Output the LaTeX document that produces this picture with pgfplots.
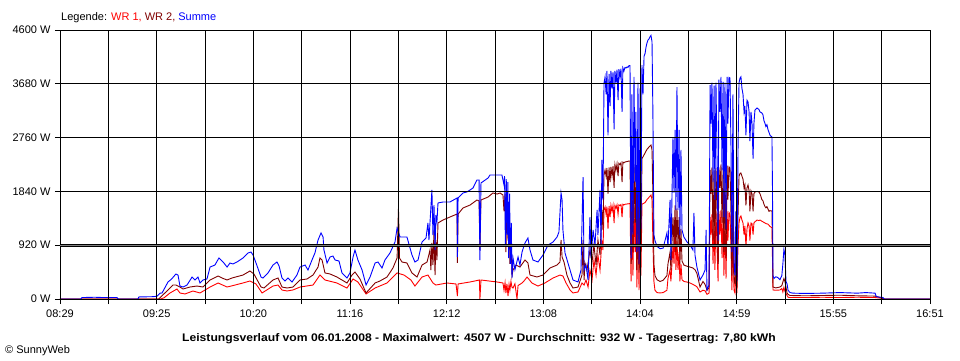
\documentclass[border=0pt]{standalone}
\usepackage{pgfplots}
\pgfplotsset{compat=1.18}
\usepackage{fontspec}
\setmainfont{Liberation Sans}
\definecolor{wrone}{RGB}{255,0,0}
\definecolor{wrtwo}{RGB}{128,0,0}
\definecolor{summe}{RGB}{0,0,255}
\definecolor{midgray}{RGB}{128,128,128}
\begin{document}
\begin{tikzpicture}[x=1pt,y=1pt]
\path[use as bounding box] (0,0) rectangle (960,360);
\begin{axis}[
  at={(60pt,61pt)}, anchor=south west,
  scale only axis, width=870pt, height=269pt,
  xmin=0, xmax=502, ymin=0, ymax=4600,
  xtick={0,27.89,55.78,83.67,111.56,139.44,167.33,195.22,223.11,251,278.89,306.78,334.67,362.56,390.44,418.33,446.22,474.11,502},
  xticklabels={08:29,,09:25,,10:20,,11:16,,12:12,,13:08,,14:04,,14:59,,15:55,,16:51},
  ytick={0,1840,2760,3680,4600},
  yticklabels={0 W,1840 W,2760 W,3680 W,4600 W},
  extra y ticks={920},
  extra y tick labels={920 W},
  extra y tick style={grid style={draw=black, double=midgray, double distance=1.1pt, line width=0.8pt}},
  tick pos=left, tick align=outside, major tick length=5pt,
  tick style={black, line width=0.8pt},
  grid=major, major grid style={black, line width=0.8pt},
  axis line style={black, line width=0.8pt},
  axis on top,
  tick label style={font=\fontsize{11}{13}\selectfont},
  yticklabel style={xshift=-1pt},
  xticklabel style={yshift=-2pt},
  clip=true,
]
% WR 1
\addplot[wrone, line width=0.9pt] coordinates {
(0,0) (58,0) (60,20) (63.5,103) (67.5,171) (69.2,103) (72.1,86) (76.7,137) (80.8,103) (83.7,154) (86.6,205) (91.2,274) (96.4,205) (101,239) (105.6,274) (109.6,308) (113.1,257) (116.6,103) (122.9,222) (125.8,239) (128.1,154) (131,137) (134.4,154) (138.5,205) (146,239) (150,410) (152.9,325) (159.8,274) (165.6,188) (169.1,342) (171.9,291) (176.6,86) (181.8,188) (188.7,274) (194.5,445) (198.5,410) (202.5,325) (204.8,222) (208.9,376) (212.3,410) (215.2,274) (216.9,239) (223.3,274) (228.5,257) (229.3,51) (229.7,257) (236.6,291) (242,325) (242.3,0) (242.9,325) (252.2,291) (255.6,274)
(256.2,150) (256.8,280) (257.3,100) (257.9,260) (258.5,50) (259.1,250) (259.6,150) (260.2,300) (260.8,200) (261.4,188) (262.5,260) (263.7,0) (264.3,230) (266.6,274) (267.5,300) (269.5,376) (272.3,274) (275.8,222) (279.8,274) (284.5,359) (288.5,410) (290.2,393) (292,274) (294.3,154) (296,103) (298.9,120) (301.2,274) (302.4,239) (303.5,325) (304.7,205) (305.8,496) (307,325) (308.1,667) (309.3,410) (310.4,752) (311.6,496) (312.7,1009) (313.3,838) (313.9,1522) (314.5,1573)
(315.1,1450) (315.6,1580) (316.2,1200) (316.8,1590) (317.4,1400) (317.9,1600) (318.5,1500) (319.1,1600) (319.7,1300) (320.2,1600) (320.8,1550) (321.4,1610) (322,1450) (322.5,1610) (323.1,1600) (323.7,1615) (324.3,1400) (324.8,1620) (325.4,1610) (326,1620) (327.2,1625) (328.3,1630) (328.9,1630) (329.5,300) (330,1500) (330.6,400) (331.2,1600) (331.8,800) (332.3,1450) (332.9,200) (333.5,1600) (334.1,150) (334.7,1580) (335.2,400) (335.8,1620) (337.6,1650) (338.7,1700) (339.9,1740) (341,1778) (341.6,1700) (342.1,1000) (342.7,300) (343.3,150) (344.5,110) (346.2,103) (348,110) (350.2,150) (350.8,350) (352,500) (352.5,300) (353.7,900) (354.3,600) (354.9,1402) (355.4,500) (356,1000) (356.6,500) (357.2,800) (357.7,300) (358.3,600) (358.9,330) (360,300) (361.8,290) (363.5,274) (365.2,250) (366.4,230) (367.5,210) (369.3,120) (371,150) (372.2,140) (373.3,80) (374.5,100) (375.1,1402)
(375.6,1100) (376.2,1450) (376.8,600) (377.4,1400) (377.9,500) (378.5,1500) (379.1,900) (379.7,300) (380.2,1500) (380.8,1100) (381.4,1522) (382,700) (382.6,1500) (383.1,400) (383.7,1450) (384.3,350) (384.9,1500) (385.4,1000) (386,1480) (386.6,1450) (387.2,800) (387.7,150) (388.3,1200) (388.9,150) (389.5,100) (390,500) (390.6,100) (391.2,900) (391.8,1300) (392.4,1400) (392.9,1420) (393.5,1350) (394.1,1300) (394.7,1100) (395.2,1250) (395.8,900) (396.4,1200) (397,1300) (397.6,1250) (398.1,1000) (398.7,1300) (399.3,1290) (399.9,1100) (400.4,1300) (401,1320) (402.2,1350) (403.3,1340) (403.9,1350) (405,1330) (406.2,1310) (407.3,1290) (408.5,1280) (409.7,1240) (410.8,1220) (411.1,700) (411.4,154) (413,150) (415.4,154) (416.5,180) (417.1,120) (417.7,200) (418.3,130) (419.5,60) (420.1,30) (421.2,25) (430,25) (440,30) (450,25) (460,30) (470.3,25) (474.9,10) (475.5,0) (502,0)
};
% WR 2
\addplot[wrtwo, line width=0.9pt] coordinates {
(0,0) (57,0) (58,30) (62.3,154) (65.2,239) (66.9,239) (69.2,205) (71,171) (75,205) (79,222) (82.5,205) (86.6,325) (91.2,393) (93.5,359) (96.4,325) (99.2,359) (105.6,410) (109.6,479) (111.9,428) (116,205) (117.7,188) (122.9,325) (125.8,359) (128.1,205) (131,188) (134.4,205) (138.5,325) (142.5,342) (146,410) (148.9,547) (150,701) (151.2,667) (152.9,445) (155.8,428) (159.8,376) (162.7,325) (165.6,274) (168.5,410) (170.2,462) (173.1,342) (176.6,103) (181.8,274) (184.6,308) (188.7,376) (192.1,530) (194.5,701) (195.3,1556) (195.9,701) (197.3,633) (200.2,616) (203.1,445) (206,376) (208.9,581) (211.8,633) (213.5,838) (214,496) (214.6,958) (215.2,581) (215.8,1180) (216.4,410) (216.9,1009) (217.5,667) (218.1,1300) (221,1351) (225,1402) (229.1,1453) (229.3,616) (229.7,1453) (232.5,1556) (236.6,1607) (240.6,1693) (241.8,1676) (242.3,838) (242.9,1693) (247,1744) (249.8,1813) (252.2,1795) (253.9,1813) (255.6,1778)
(256.2,1500) (256.8,1800) (257.3,800) (257.9,1700) (258.5,1000) (259.1,1650) (259.6,600) (260.2,1200) (260.8,400) (261.4,496) (263.1,581) (265.4,547) (268.3,667) (270,616) (271.2,410) (275.2,376) (278.7,410) (282.7,530) (286.8,581) (288.5,633) (289.1,1009) (289.7,718) (290.8,633) (292.5,410) (294.3,274) (296,188) (298.9,205) (301.2,410) (301.8,1009) (302.4,325) (302.9,616) (304.1,496) (305.8,838) (307,633) (308.1,923) (309.3,581) (310.4,1009) (311.6,752) (312.7,1522) (313.3,1180) (313.9,2120) (314.5,2206)
(315.1,2100) (315.6,2240) (316.2,1800) (316.8,2250) (317.4,2000) (317.9,2260) (318.5,2100) (319.1,2270) (319.7,1900) (320.2,2300) (320.8,2200) (321.4,2310) (322,2100) (322.5,2320) (323.1,2300) (323.7,2330) (324.3,2000) (324.8,2340) (325.4,2330) (326,2343) (327.2,2350) (328.3,2360) (328.9,2360) (329.5,600) (330,2200) (330.6,800) (331.2,2300) (331.8,1300) (332.3,2100) (332.9,500) (333.5,2300) (334.1,450) (334.7,2250) (335.2,800) (335.8,2400) (337.6,2497) (338.7,2560) (339.9,2600) (341,2633) (341.6,2550) (342.1,1800) (342.7,600) (343.3,400) (344.5,330) (346.2,300) (348,320) (350.2,400) (350.8,600) (352,800) (352.5,500) (353.7,1402) (354.3,900) (354.9,1600) (355.4,800) (356,1550) (356.6,900) (357.2,1400) (357.7,600) (358.3,1200) (358.9,650) (360,580) (361.8,560) (363.5,547) (365.2,530) (366.4,500) (367.5,440) (369.3,205) (371,300) (372.2,250) (373.3,150) (374.5,190) (375.1,2206)
(375.6,1800) (376.2,2250) (376.8,1000) (377.4,2200) (377.9,900) (378.5,2240) (379.1,1500) (379.7,600) (380.2,2250) (380.8,1900) (381.4,2300) (382,1300) (382.6,2240) (383.1,800) (383.7,2250) (384.3,700) (384.9,2280) (385.4,1700) (386,2260) (386.6,2240) (387.2,1400) (387.7,400) (388.3,2000) (388.9,350) (389.5,250) (390,900) (390.6,200) (391.2,1400) (391.8,2100) (392.4,2150) (392.9,2155) (393.5,2100) (394.1,2050) (394.7,1900) (395.2,1950) (395.8,1600) (396.4,1900) (397,1950) (397.6,1850) (398.1,1500) (398.7,1850) (399.3,1800) (399.9,1500) (400.4,1800) (401,1830) (402.2,1840) (403.3,1830) (403.9,1800) (405,1700) (405.6,1680) (406.2,1620) (406.8,1580) (407.3,1560) (407.9,1580) (408.5,1540) (409.1,1500) (409.7,1510) (410.8,1505) (411.1,1000) (411.4,205) (413,190) (415.4,205) (416.5,230) (417.7,350) (418.3,300) (419.5,103) (420.1,80) (421.2,60) (430,55) (440,60) (450,65) (460,55) (470.3,50) (474.9,10) (475.5,0) (502,0)
};
% Summe
\addplot[summe, line width=0.9pt] coordinates {
(0,0) (12,0) (12.7,25) (20,30) (25,25) (32.9,25) (33.5,0) (45,0) (45.5,35) (54,40) (56,50) (57.7,100) (58.9,103) (62.3,291) (64.2,336) (66.9,428) (68.1,410) (69.2,222) (71,205) (73.3,239) (76.2,376) (77.9,325) (79.6,376) (80.8,274) (82.5,325) (84.8,342) (86.6,547) (89.4,581) (91.7,701) (94.1,633) (96.4,547) (98.1,616) (99.8,599) (102.1,633) (105.6,701) (108.5,787) (110.2,804) (111.4,752) (113.1,616) (116,376) (117.1,359) (120,445) (122.9,581) (125.2,633) (126.4,564) (128.1,359) (129.8,308) (131.6,359) (133.9,291) (136.7,410) (138.5,547) (141.4,581) (143.1,496) (145.4,667) (147.1,787) (148.9,1009) (150.6,1129) (151.8,1060) (152.3,838) (154.1,616) (155.8,718) (157.5,735) (158.7,667) (161,650) (162.7,445) (165.6,359) (167.3,445) (169.1,718) (170.2,838) (171.9,667) (174.3,496) (176.6,239) (178.9,376) (181.8,616) (183.5,633) (185.8,530) (187.5,667) (190.4,787) (193.3,975) (194.5,1214) (196.2,1060) (200.2,1060) (203.1,752) (204.8,633) (206.6,667) (208.9,975) (211.2,1043) (212.3,1300) (212.9,1009) (214.6,1864) (215.2,1094) (215.8,1607) (216.4,838) (216.9,1436) (217.5,1317) (218.1,1642) (221,1659) (225,1659) (229.1,1727) (229.3,718) (229.7,1727) (232.5,1813) (234.8,1830) (238.3,1898) (240.6,2035) (241.8,2035) (242.3,667) (242.9,1984) (247,2069) (248.1,2120) (252.2,2120) (255,2120)
(256.2,1950) (256.5,2100) (257,900) (257.5,2050) (258,1100) (258.4,2000) (258.9,700) (259.4,1800) (259.9,600) (260.4,1300) (260.8,359) (261.4,700) (262.5,500) (264.3,718) (265.4,581) (266.6,804) (268.3,958) (270,1043) (271.2,838) (272.9,667) (275.8,633) (278.7,752) (281.6,923) (284.5,975) (286.8,1060) (287.9,1146) (289.1,1813) (289.7,1693) (290.2,1180) (291.4,787) (294.3,496) (296,325) (298.9,291) (300.6,496) (301.8,2086) (302.4,496) (303.5,581) (304.7,325) (305.8,1402) (306.4,701) (307.6,1180) (308.7,923) (309.9,1522) (310.4,1094) (311.6,1864) (312.2,923) (312.7,2377) (313.3,1693) (313.9,3694) (314.5,3796)
(315.1,3500) (315.6,3900) (316.2,2800) (316.8,3850) (317.4,3300) (317.9,3900) (318.5,3600) (319.1,3880) (319.7,2900) (320.2,3900) (320.8,3700) (321.4,3920) (322,3400) (322.5,3930) (323.1,3800) (323.7,3940) (324.3,3200) (324.8,3950) (325.4,3900) (326,3960) (326.6,3950) (327.2,3970) (327.7,3960) (328.3,3990) (328.9,3990) (329.5,700) (330,3500) (330.6,1100) (331.2,3800) (331.8,2000) (332.3,3200) (332.9,800) (333.5,3700) (334.1,600) (334.7,3600) (335.2,1200) (335.8,4000) (336.4,3500) (337,4150) (337.6,4200) (338.1,4300) (338.7,4380) (339.3,4429) (339.9,4450) (340.4,4480) (341,4507) (341.6,4400) (342.1,3200) (342.7,1100) (343.3,1000) (344.5,900) (346.2,860) (348,870) (350.2,1129) (350.8,889) (352,1693) (352.5,667) (353.7,2770) (354.3,1813) (354.9,2890) (355.4,1522) (356,3625) (356.6,1522) (357.2,2890) (357.7,1094) (358.3,2548) (358.9,1180) (360,1060) (361.8,975) (363.5,923) (365.2,838) (365.8,1471) (366.4,752) (367.5,547) (369.3,325) (371,410) (372.2,496) (372.8,1180) (373.3,154) (374.5,239) (375.1,3659)
(375.6,3000) (376.2,3700) (376.8,2000) (377.4,3650) (377.9,1700) (378.5,3700) (379.1,2500) (379.7,1000) (380.2,3750) (380.8,3200) (381.4,3800) (382,2200) (382.6,3711) (383.1,1400) (383.7,3700) (384.3,1200) (384.9,3800) (385.4,3000) (386,3790) (386.6,3779) (387.2,2500) (387.7,800) (388.3,3500) (388.9,600) (389.5,400) (390,1500) (390.6,300) (391.2,2500) (391.8,3700) (392.4,3779) (392.9,3800) (393.5,3600) (394.1,3500) (394.7,3200) (395.2,3300) (395.8,2800) (396.4,3400) (397,3369) (397.6,3200) (398.1,2700) (398.7,3200) (399.3,3000) (399.9,2400) (400.4,3000) (401,3232) (402.2,3266) (403.3,3240) (403.9,3200) (405,3181) (405.6,3150) (406.2,3050) (406.8,3000) (407.3,2950) (407.9,2980) (408.5,2900) (409.1,2850) (409.7,2800) (410.8,2770) (411.1,1900) (411.4,400) (412,350) (413,380) (414,370) (415.4,330) (416.5,400) (417.1,600) (417.7,850) (418.3,750) (418.9,300) (419.5,260) (420.1,150) (421.2,110) (423,100) (430,95) (440,100) (450,110) (460,100) (465,110) (470.3,100) (471,40) (474.9,25) (475.5,0) (502,0)
};
\end{axis}
\node[anchor=base west, inner sep=0pt, font=\fontsize{11}{13}\selectfont] at (61,340) {Legende: \textcolor{wrone}{WR 1,} \textcolor{wrtwo}{WR 2,} \textcolor{summe}{Summe}};
\node[anchor=base, inner sep=0pt, font=\fontsize{11}{13}\selectfont\bfseries] at (479,18.5) {\scalebox{1.104}[1]{Leistungsverlauf vom 06.01.2008 - Maximalwert: 4507 W - Durchschnitt: 932 W - Tagesertrag: 7,80 kWh}};
\node[anchor=base west, inner sep=0pt, font=\fontsize{11}{13}\selectfont] at (5,7) {© SunnyWeb};
\end{tikzpicture}
\end{document}
